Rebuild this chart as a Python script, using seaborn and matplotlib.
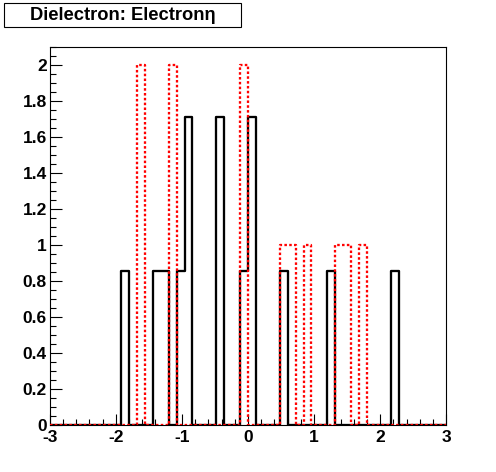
import numpy as np
import pandas as pd
import matplotlib
matplotlib.use("Agg")
import matplotlib.pyplot as plt
from matplotlib.patches import Rectangle
from matplotlib.ticker import MultipleLocator, FuncFormatter
import seaborn as sns

# ---- data (bin centres of non-empty bins, and their contents) ----
title = "Dielectron: Electronη"
n_bins = 50
x_range = (-3, 3)

black_eta = [-1.86, -1.38, -1.26, -1.02, -0.90, -0.42, -0.06, 0.06, 0.54, 1.26, 2.22]
black_val = [0.857, 0.857, 0.857, 0.857, 1.714, 1.714, 0.857, 1.714, 0.857, 0.857, 0.857]

red_eta = [-1.62, -1.14, -0.06, 0.54, 0.66, 0.90, 1.38, 1.50, 1.74]
red_val = [2, 2, 2, 1, 1, 1, 1, 1, 1]

x_ticks = [-3, -2, -1, 0, 1, 2, 3]
y_ticks = [0, 0.2, 0.4, 0.6, 0.8, 1.0, 1.2, 1.4, 1.6, 1.8, 2.0]

sns.set_style("white")
plt.rcParams['font.family'] = ['Liberation Sans', 'DejaVu Sans']
plt.rcParams['text.color'] = 'black'
plt.rcParams['xtick.color'] = 'black'
plt.rcParams['ytick.color'] = 'black'
plt.rcParams['xtick.labelcolor'] = 'black'
plt.rcParams['ytick.labelcolor'] = 'black'

fig = plt.figure(figsize=(4.96, 4.72), dpi=100)
ax = fig.add_axes([0.1, 0.1, 0.8, 0.8])

df_b = pd.DataFrame({"eta": black_eta, "w": black_val})
df_r = pd.DataFrame({"eta": red_eta, "w": red_val})

lw = 2.3 * 72 / 100
sns.histplot(data=df_b, x="eta", weights="w", bins=n_bins, binrange=x_range,
             element="step", fill=False, color="black", linewidth=lw,
             ax=ax, zorder=3)
sns.histplot(data=df_r, x="eta", weights="w", bins=n_bins, binrange=x_range,
             element="step", fill=False, color="#ff0000", linewidth=lw,
             linestyle=(0, (1.1, 1.0)), ax=ax, zorder=4)

ax.set_xlim(*x_range)
ax.set_ylim(0, 2.1)
ax.set_xlabel("")
ax.set_ylabel("")

ax.set_xticks(x_ticks)
ax.set_yticks(y_ticks)
ax.xaxis.set_minor_locator(MultipleLocator(0.2))
ax.yaxis.set_minor_locator(MultipleLocator(0.05))
fmt = FuncFormatter(lambda v, p: "%g" % round(v, 3))
ax.xaxis.set_major_formatter(fmt)
ax.yaxis.set_major_formatter(fmt)

ax.tick_params(which="both", direction="in", top=False, right=False,
               bottom=True, left=True, width=0.8, color="black",
               labelcolor="black")
ax.tick_params(which="major", axis="x", length=8, pad=4)
ax.tick_params(which="minor", axis="x", length=4)
ax.tick_params(which="major", axis="y", length=8.8, pad=2)
ax.tick_params(which="minor", axis="y", length=4.6)
for lab in ax.get_xticklabels() + ax.get_yticklabels():
    lab.set_fontweight("bold")
    lab.set_fontsize(12.5)
    lab.set_color("black")

for s in ax.spines.values():
    s.set_visible(True)
    s.set_color("black")
    s.set_linewidth(0.8)

# title box (ROOT style)
fig.add_artist(Rectangle((4 / 496, 1 - 27 / 472), 237 / 496, 24 / 472,
                         transform=fig.transFigure, facecolor="white",
                         edgecolor="black", linewidth=0.8))
fig.text(122.5 / 496, 1 - 15.5 / 472, title, ha="center", va="center",
         fontsize=13.2, fontweight="bold", color="black")

fig.savefig("out.png", dpi=100, facecolor="white")
